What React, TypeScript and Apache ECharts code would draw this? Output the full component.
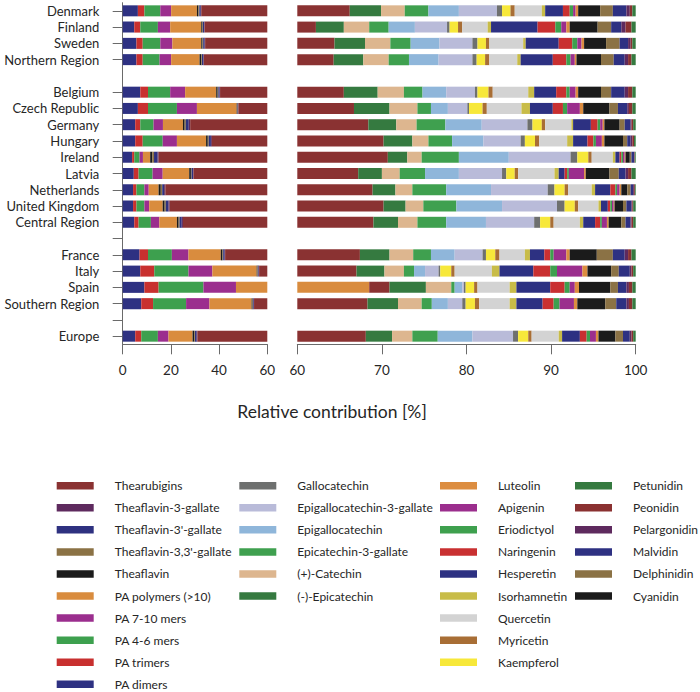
import React, { useEffect, useRef } from 'react';
import * as echarts from 'echarts';

const components = [
  'PA dimers', 'PA trimers', 'PA 4-6 mers', 'PA 7-10 mers', 'PA polymers (>10)',
  'Theaflavin', "Theaflavin-3,3'-gallate", "Theaflavin-3'-gallate", 'Theaflavin-3-gallate', 'Thearubigins',
  '(-)-Epicatechin', '(+)-Catechin', 'Epicatechin-3-gallate', 'Epigallocatechin', 'Epigallocatechin-3-gallate', 'Gallocatechin',
  'Kaempferol', 'Myricetin', 'Quercetin', 'Isorhamnetin', 'Hesperetin', 'Naringenin', 'Eriodictyol', 'Apigenin', 'Luteolin',
  'Cyanidin', 'Delphinidin', 'Malvidin', 'Pelargonidin', 'Peonidin', 'Petunidin',
];

const colors = [
  '#2E3182', '#C8302F', '#3DA04E', '#9B2E8E', '#D98C3E',
  '#1B1B1B', '#8B7245', '#2E3180', '#5E2A5E', '#8A3232',
  '#357A40', '#DDB68F', '#3FA04F', '#8FB6DA', '#B9BBD9', '#6E706F',
  '#F7E83A', '#A86E35', '#D3D3D3', '#C8BC48', '#2D3182', '#C93031', '#3EA04E', '#9B2E8D', '#DC8D40',
  '#1B1B1B', '#8B7245', '#2E3182', '#5E2A5E', '#8A3131', '#357A40',
];

const categories = [
  'Denmark', 'Finland', 'Sweden', 'Northern Region', '',
  'Belgium', 'Czech Republic', 'Germany', 'Hungary', 'Ireland', 'Latvia', 'Netherlands', 'United Kingdom', 'Central Region', ' ',
  'France', 'Italy', 'Spain', 'Southern Region', '  ',
  'Europe',
];

// Relative contribution [%] of each component, in the order of `components`
const denmark = [6.3, 2.7, 6.6, 4.5, 10.7, 0.6, 0.4, 0.6, 0.2, 33.6, 3.7, 2.8, 2.8, 3.6, 4.5, 0.6, 1.0, 0.5, 3.2, 0.4, 2.1, 0.8, 0.4, 0.3, 0.3, 2.6, 1.5, 1.6, 0.4, 0.3, 0.4];
const finland = [4.8, 2.5, 7.3, 5.1, 12.9, 0.5, 0.2, 0.5, 0.2, 28.2, 3.3, 3.0, 2.3, 3.1, 3.8, 0.3, 1.0, 0.5, 3.0, 0.4, 5.5, 2.1, 0.7, 0.6, 0.4, 3.3, 1.6, 1.2, 0.5, 0.7, 0.5];
const sweden = [5.7, 2.6, 7.3, 5.0, 12.0, 0.5, 0.3, 0.6, 0.2, 30.2, 3.6, 3.0, 2.4, 3.4, 3.9, 0.6, 1.0, 0.4, 4.0, 0.3, 3.9, 1.6, 0.6, 0.5, 0.3, 2.6, 1.6, 1.0, 0.3, 0.2, 0.4];
const northernRegion = [5.7, 2.6, 7.0, 4.8, 11.8, 0.7, 0.3, 0.6, 0.2, 30.6, 3.5, 3.0, 2.4, 3.5, 4.0, 0.5, 1.0, 0.5, 3.3, 0.4, 3.8, 1.6, 0.5, 0.5, 0.2, 2.9, 1.5, 1.3, 0.4, 0.4, 0.5];
const belgium = [7.3, 3.2, 9.2, 6.2, 12.9, 0.6, 0.3, 0.5, 0.2, 25.1, 4.0, 3.1, 2.2, 2.8, 3.4, 0.3, 1.3, 0.5, 4.2, 0.7, 2.6, 1.2, 0.4, 0.7, 0.3, 2.7, 1.2, 1.6, 0.4, 0.5, 0.4];
const czechRepublic = [6.3, 4.2, 12.0, 8.3, 16.5, 0.3, 0.1, 0.2, 0.1, 18.7, 4.2, 3.3, 1.6, 2.0, 2.3, 0.2, 1.6, 0.5, 4.1, 1.0, 2.7, 1.2, 0.5, 1.5, 0.4, 3.1, 1.0, 1.1, 0.2, 0.4, 0.4];
const germany = [5.2, 2.1, 5.5, 3.9, 8.3, 0.7, 0.5, 1.2, 0.6, 40.4, 3.3, 2.4, 3.4, 4.3, 5.4, 0.6, 1.1, 0.4, 3.1, 0.2, 2.1, 0.8, 0.3, 0.3, 0.2, 1.8, 0.6, 0.7, 0.1, 0.2, 0.3];
const hungary = [5.2, 3.1, 8.3, 5.9, 12.1, 0.7, 0.4, 0.9, 0.4, 33.2, 3.4, 1.9, 2.8, 3.7, 4.4, 0.5, 1.2, 0.5, 3.3, 0.7, 1.7, 0.7, 0.3, 0.7, 0.3, 2.2, 0.5, 0.4, 0.2, 0.2, 0.2];
const ireland = [3.9, 0.9, 2.2, 1.4, 3.0, 0.9, 0.7, 1.5, 0.4, 55.8, 2.3, 1.7, 4.4, 5.9, 7.3, 0.8, 1.3, 0.4, 2.5, 0.3, 0.5, 0.2, 0.2, 0.2, 0.1, 0.5, 0.2, 0.3, 0.05, 0.05, 0.1];
const latvia = [4.6, 2.0, 5.8, 4.2, 11.0, 0.7, 0.3, 0.6, 0.2, 37.8, 2.8, 2.1, 3.0, 4.0, 5.1, 0.5, 1.0, 0.4, 4.3, 0.5, 0.7, 0.3, 0.2, 1.8, 0.2, 2.8, 1.1, 0.8, 0.3, 0.4, 0.5];
const netherlands = [4.3, 1.4, 3.3, 1.8, 4.1, 0.9, 0.6, 0.8, 0.5, 51.2, 2.7, 2.0, 4.0, 5.3, 6.7, 0.8, 1.2, 0.4, 2.8, 0.4, 1.8, 0.6, 0.2, 0.3, 0.2, 0.7, 0.4, 0.3, 0.1, 0.1, 0.1];
const unitedKingdom = [4.3, 1.4, 3.3, 2.0, 5.6, 0.8, 0.5, 1.1, 0.5, 50.7, 2.6, 2.1, 3.9, 5.4, 6.5, 0.9, 1.2, 0.4, 2.4, 0.3, 0.8, 0.3, 0.2, 0.2, 0.1, 1.0, 0.4, 0.6, 0.1, 0.1, 0.3];
const centralRegion = [4.8, 1.8, 5.1, 3.5, 7.3, 0.7, 0.4, 0.9, 0.5, 44.0, 2.9, 2.3, 3.4, 4.7, 5.7, 0.7, 1.2, 0.4, 3.1, 0.4, 1.4, 0.6, 0.2, 0.6, 0.2, 1.5, 0.5, 0.6, 0.1, 0.2, 0.3];
const france = [7.0, 3.5, 9.9, 6.9, 13.4, 0.7, 0.3, 0.6, 0.2, 24.9, 3.5, 2.8, 2.1, 2.8, 3.3, 0.4, 1.1, 0.5, 3.0, 0.6, 1.7, 0.7, 0.4, 1.5, 0.4, 3.2, 1.9, 1.4, 0.4, 0.4, 0.5];
const italy = [7.3, 5.8, 14.2, 9.9, 18.4, 0.3, 0.2, 0.3, 0.2, 10.4, 3.3, 2.3, 1.2, 1.3, 1.6, 0.2, 1.3, 0.4, 4.4, 0.9, 4.0, 2.0, 0.8, 3.0, 0.6, 2.8, 0.9, 1.3, 0.2, 0.2, 0.3];
const spain = [9.0, 5.9, 18.6, 13.5, 21.5, 0, 0, 0, 0, 2.4, 4.3, 3.0, 0.4, 0.9, 0.2, 0.2, 1.0, 0.4, 3.8, 0.8, 4.0, 1.7, 0.6, 0.6, 0.5, 3.7, 0.9, 1.0, 0.3, 0.4, 0.4];
const southernRegion = [7.7, 4.9, 13.7, 9.7, 17.5, 0.4, 0.2, 0.3, 0.1, 13.8, 3.6, 2.8, 1.2, 1.9, 1.7, 0.4, 1.1, 0.5, 3.6, 0.8, 3.1, 1.3, 0.7, 1.7, 0.4, 3.3, 1.3, 1.2, 0.3, 0.4, 0.4];
const europe = [5.2, 2.5, 6.9, 4.4, 10.0, 0.7, 0.3, 0.7, 0.3, 37.1, 3.1, 2.4, 3.0, 4.1, 4.8, 0.6, 1.2, 0.4, 3.2, 0.4, 2.1, 0.8, 0.4, 0.7, 0.3, 2.0, 0.9, 0.8, 0.2, 0.2, 0.3];

const rows: Record<string, number[]> = {
  'Denmark': denmark, 'Finland': finland, 'Sweden': sweden, 'Northern Region': northernRegion,
  'Belgium': belgium, 'Czech Republic': czechRepublic, 'Germany': germany, 'Hungary': hungary,
  'Ireland': ireland, 'Latvia': latvia, 'Netherlands': netherlands, 'United Kingdom': unitedKingdom,
  'Central Region': centralRegion, 'France': france, 'Italy': italy, 'Spain': spain,
  'Southern Region': southernRegion, 'Europe': europe,
};

const leftTicks = [0, 20, 40, 60];
const rightTicks = [60, 70, 80, 90, 100];

const FONT = 'Lato, "DejaVu Sans", sans-serif';
const TEXT = '#262626';
const AXIS = '#6a6a6a';

export default function App() {
  const ref = useRef<HTMLDivElement>(null);
  useEffect(() => {
    if (!ref.current) return;
    const chart = echarts.init(ref.current, undefined, { renderer: 'svg' });
    const gridTop = 2.7;
    const gridH = 341.6;
    const series: any[] = [];
    components.forEach((name, i) => {
      const data = categories.map((c) => (rows[c] ? rows[c][i] : '-'));
      [0, 1].forEach((k) => {
        series.push({
          name,
          type: 'bar',
          stack: k === 0 ? 'left' : 'right',
          xAxisIndex: k,
          yAxisIndex: k,
          barWidth: 11,
          clip: true,
          data,
          itemStyle: { color: colors[i] },
          emphasis: { disabled: true },
          silent: true,
        });
      });
    });
    const legendCol = (names: string[], left: number) => ({
      orient: 'vertical',
      left,
      top: 478.7,
      padding: 0,
      itemWidth: 37,
      itemHeight: 7.5,
      itemGap: 8.07,
      icon: 'rect',
      selectedMode: false,
      data: names,
      textStyle: {
        fontFamily: FONT,
        fontSize: 12,
        color: TEXT,
        lineHeight: 14,
        padding: [0, 0, 0, 16],
      },
    });
    const xAxisCommon = {
      type: 'value',
      axisLine: { show: true, lineStyle: { color: AXIS, width: 1 } },
      axisTick: { show: true, length: 10, lineStyle: { color: AXIS } },
      splitLine: { show: false },
      axisLabel: { fontFamily: FONT, fontSize: 13.5, color: TEXT, margin: 19 },
    };
    chart.setOption({
      animation: false,
      grid: [
        { left: 122.7, top: gridTop, width: 144.6, height: gridH },
        { left: 297.3, top: gridTop, width: 338.4, height: gridH },
      ],
      xAxis: [
        { ...xAxisCommon, gridIndex: 0, min: leftTicks[0], max: leftTicks[leftTicks.length - 1], interval: 20 },
        { ...xAxisCommon, gridIndex: 1, min: rightTicks[0], max: rightTicks[rightTicks.length - 1], interval: 10 },
      ],
      yAxis: [
        {
          type: 'category',
          gridIndex: 0,
          inverse: true,
          data: categories,
          axisLine: { show: true, lineStyle: { color: AXIS, width: 1 } },
          axisTick: {
            show: true,
            length: 10,
            alignWithLabel: true,
            interval: (index: number) => index !== 4,
            lineStyle: { color: AXIS },
          },
          axisLabel: { interval: 0, fontFamily: FONT, fontSize: 13, color: TEXT, margin: 23.4 },
        },
        {
          type: 'category',
          gridIndex: 1,
          inverse: true,
          data: categories,
          axisLine: { show: false },
          axisTick: { show: false },
          axisLabel: { show: false },
        },
      ],
      legend: [
        legendCol(components.slice(0, 10).reverse(), 56.7),
        legendCol(components.slice(10, 16).reverse(), 239.3),
        legendCol(components.slice(16, 25).reverse(), 440),
        legendCol(components.slice(25, 31).reverse(), 575),
      ],
      graphic: [
        {
          type: 'text',
          x: 332,
          y: 411.7,
          style: {
            text: 'Relative contribution [%]',
            fontFamily: FONT,
            fontSize: 17.5,
            fill: TEXT,
            textAlign: 'center',
            textVerticalAlign: 'middle',
          },
        },
      ],
      series,
    });
    return () => chart.dispose();
  }, []);
  return (
    <div
      ref={ref}
      style={{ position: 'fixed', left: 0, top: 0, width: 700, height: 692, background: '#fff' }}
    />
  );
}
